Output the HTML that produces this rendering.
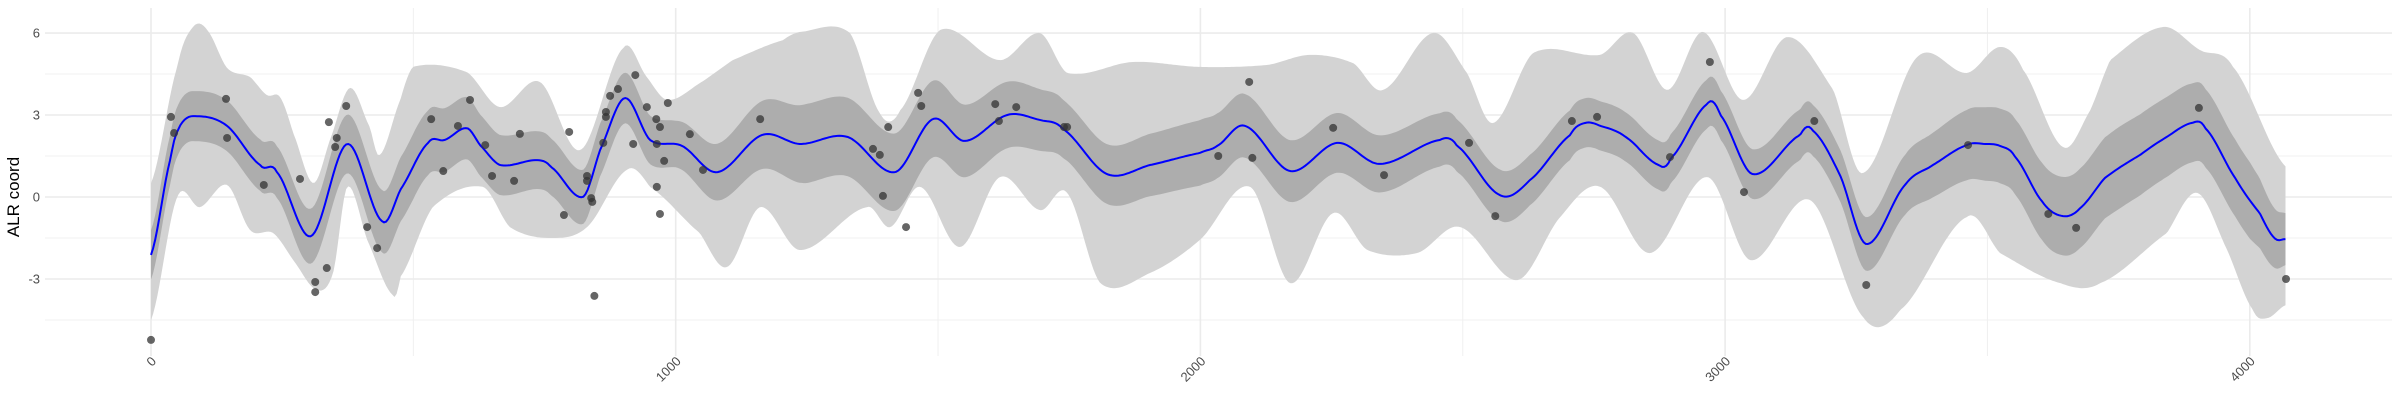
<!DOCTYPE html>
<html><head><meta charset="utf-8"><style>
html,body{margin:0;padding:0;background:#fff;}
svg{display:block;font-family:"Liberation Sans",sans-serif;}
</style></head><body>
<svg id="chart" width="2400" height="400" viewBox="0 0 2400 400" xmlns="http://www.w3.org/2000/svg">
<g id="grid"></g>
<g id="bands"></g>
<g id="line"></g>
<g id="pts"></g>
<g id="axes"></g>
<text x="0" y="0" transform="translate(19,197) rotate(-90)" text-anchor="middle" font-size="17" fill="#000">ALR coord</text>
</svg>
<script>
const meanX=[0,38,56,80,143,208,240,305,374,440,475,528,560,602,627,665,736,762,823,856,903,951,1012,1079,1165,1237,1327,1418,1490,1551,1632,1694,1738,1822,1904,1999,2032,2085,2171,2261,2342,2457,2489,2571,2628,2705,2733,2762,2810,2874,2897,2966,2991,3052,3143,3166,3219,3269,3343,3396,3461,3496,3524,3553,3605,3644,3677,3724,3791,3842,3890,3915,3972,4019,4047,4068];
const meanY=[-2.12,1.46,2.63,2.96,2.63,1.17,0.91,-1.43,1.94,-0.88,0.26,1.98,2.09,2.52,1.90,1.17,1.35,1.10,0,1.72,3.62,2.09,1.87,0.91,2.27,1.94,2.20,0.91,2.85,2.05,3.00,2.82,2.49,0.84,1.17,1.61,1.87,2.60,0.95,1.98,1.21,2.09,1.87,0.07,0.62,2.27,2.71,2.60,2.20,1.17,1.43,3.40,3.00,0.84,2.27,2.45,0.80,-1.72,0.44,1.17,1.90,1.94,1.87,1.46,-0.18,-0.70,-0.40,0.70,1.54,2.20,2.71,2.52,0.70,-0.59,-1.50,-1.54];
const upperX=[0,50,80,107,145,189,221,246,271,309,341,379,417,436,475,499,602,665,741,818,900,945,984,1046,1109,1205,1237,1332,1389,1428,1504,1618,1694,1746,1872,1999,2127,2209,2291,2348,2443,2508,2558,2634,2762,2825,2890,2958,3034,3118,3206,3263,3366,3461,3524,3568,3644,3696,3734,3835,3905,3968,4069];
const upperY=[0.51,4.76,6.22,6.11,4.72,4.39,3.73,3.66,2.34,0.51,2.09,3.99,2.56,1.54,3.55,4.76,4.57,3.29,4.21,1.72,5.45,4.39,3.55,4.17,5.01,5.74,6.04,6.00,3.07,3.18,6.11,5.01,6.00,4.54,4.94,4.76,4.83,5.20,4.90,3.92,6.00,4.54,2.71,5.27,5.20,6.00,3.92,6.04,3.55,5.85,3.92,0.88,5.12,4.54,5.49,4.65,1.83,3.18,5.01,6.22,5.38,4.76,1.10];
const lowerX=[0,50,93,145,189,233,271,316,347,374,412,461,475,537,633,684,760,831,907,951,1046,1098,1161,1237,1365,1409,1466,1542,1618,1694,1746,1809,1904,1999,2095,2171,2253,2318,2413,2495,2604,2686,2762,2857,2966,3048,3162,3263,3334,3461,3524,3639,3715,3842,3900,3957,4006,4033,4069];
const lowerY=[-4.50,0,-0.37,0.44,-1.21,-1.32,-2.31,-3.40,-2.78,0.37,-1.57,-3.59,-2.93,-0.37,0.37,-1.10,-1.50,-1.10,0.99,0.37,-1.32,-2.56,-0.37,-1.94,-0.37,-1.10,0.37,-1.83,0.73,-0.48,0.15,-3.15,-2.78,-1.57,0.37,-3.15,-0.59,-1.94,-2.05,-1.10,-3.04,-0.73,0.37,-2.05,0.73,-2.31,-0.11,-4.39,-4.13,-0.73,-2.05,-3.15,-3.15,-1.32,0.15,-1.94,-4.13,-4.43,-3.95];
const bandX=[0,250,500,750,1000,1250,1500,1750,2000,2250,2500,2750,3000,3250,3500,3750,4000,4068];
const innerHW=[0.9,0.95,1.2,1.05,0.85,1.45,1.4,1.05,1.2,1.1,0.95,0.9,0.9,0.95,1.35,1.5,1.4,0.95];
const ptX=[0,38,44,143,145,215,284,313,313,335,339,351,354,372,412,431,534,557,585,608,637,650,692,703,787,797,831,831,839,841,845,862,867,867,875,890,919,923,945,963,964,964,970,970,978,985,1027,1052,1161,1376,1389,1395,1405,1439,1462,1468,1609,1616,1649,1740,1746,2034,2093,2099,2253,2350,2512,2562,2708,2756,2895,2971,3036,3170,3269,3463,3616,3669,3903,4069];
const ptY=[-5.23,2.93,2.34,3.59,2.16,0.44,0.66,-3.11,-3.48,-2.60,2.74,1.83,2.16,3.33,-1.10,-1.87,2.85,0.95,2.60,3.55,1.90,0.77,0.59,2.31,-0.66,2.38,0.77,0.59,-0.04,-0.18,-3.62,1.98,3.11,2.93,3.70,3.95,1.94,4.46,3.29,2.85,0.37,1.94,2.56,-0.62,1.32,3.44,2.30,0.99,2.85,1.76,1.54,0.04,2.56,-1.10,3.81,3.33,3.40,2.78,3.29,2.56,2.56,1.50,4.21,1.43,2.53,0.80,1.98,-0.70,2.78,2.93,1.46,4.94,0.18,2.78,-3.22,1.90,-0.62,-1.13,3.26,-3.00];
const yTicks=[-3,0,3,6];
const yMinor=[-4.5,-1.5,1.5,4.5];
const xTicks=[0,1000,2000,3000,4000];
const xMinor=[500,1500,2500,3500];

const NS="http://www.w3.org/2000/svg";
const sx=v=>151+v*0.5247;
const sy=v=>197-v*27.33;
function mk(tag,attrs,parent){const e=document.createElementNS(NS,tag);for(const k in attrs)e.setAttribute(k,attrs[k]);parent.appendChild(e);return e;}
const grid=document.getElementById('grid');
yMinor.forEach(v=>{const l=mk('line',{x1:45,x2:2392,y1:sy(v),y2:sy(v),stroke:'#f0f0f0','stroke-width':1},grid);

});
xMinor.forEach(v=>{const l=mk('line',{x1:sx(v),x2:sx(v),y1:8,y2:356,stroke:'#f0f0f0','stroke-width':1},grid);

});
yTicks.forEach(v=>{const l=mk('line',{x1:45,x2:2392,y1:sy(v),y2:sy(v),stroke:'#ebebeb','stroke-width':1.6},grid);

});
xTicks.forEach(v=>{const l=mk('line',{x1:sx(v),x2:sx(v),y1:8,y2:356,stroke:'#ebebeb','stroke-width':1.6},grid);

});

function smoothAt(X,Y,x){
  let i=0;while(i<X.length-2&&x>X[i+1])i++;
  const x0=X[i],x1=X[i+1];const t=Math.max(0,Math.min(1,(x-x0)/(x1-x0)));
  const p0=Y[Math.max(i-1,0)],p1=Y[i],p2=Y[i+1],p3=Y[Math.min(i+2,Y.length-1)];
  const t2=t*t,t3=t2*t;
  return 0.5*((2*p1)+(-p0+p2)*t+(2*p0-5*p1+4*p2-p3)*t2+(-p0+3*p1-3*p2+p3)*t3);
}
const meanAt=x=>smoothAt(meanX,meanY,x);
function lin(xs,ys,x){let i=0;while(i<xs.length-2&&x>xs[i+1])i++;const t=Math.max(0,Math.min(1,(x-xs[i])/(xs[i+1]-xs[i])));return ys[i]+(ys[i+1]-ys[i])*t;}
const xs=[];const xEnd=meanX[meanX.length-1];
for(let x=0;x<xEnd;x+=4)xs.push(x);xs.push(xEnd);
function pathFrom(fu,fl){
  const up=xs.map(x=>sx(x).toFixed(1)+','+sy(fu(x)).toFixed(1));
  const lo=xs.slice().reverse().map(x=>sx(x).toFixed(1)+','+sy(fl(x)).toFixed(1));
  return 'M'+up.join('L')+'L'+lo.join('L')+'Z';
}
const bands=document.getElementById('bands');
const ob=mk('path',{d:pathFrom(x=>smoothAt(upperX,upperY,x),x=>smoothAt(lowerX,lowerY,x)),fill:'#d3d3d3'},bands);


const ib=mk('path',{d:pathFrom(x=>meanAt(x)+lin(bandX,innerHW,x),x=>meanAt(x)-lin(bandX,innerHW,x)),fill:'#adadad'},bands);


const ln=mk('path',{d:'M'+xs.map(x=>sx(x).toFixed(1)+','+sy(meanAt(x)).toFixed(1)).join('L'),fill:'none',stroke:'#0000ff','stroke-width':2},document.getElementById('line'));


const pts=document.getElementById('pts');
ptX.forEach((x,i)=>{const c=mk('circle',{cx:sx(x),cy:sy(ptY[i]),r:4,fill:'#333','fill-opacity':0.75},pts);

});
const axes=document.getElementById('axes');
yTicks.forEach(v=>{const t=mk('text',{x:40,y:sy(v)+4.5,'text-anchor':'end','font-size':13,fill:'#4d4d4d'},axes);t.textContent=v;

});
xTicks.forEach(v=>{const t=mk('text',{x:0,y:0,'text-anchor':'end','font-size':13,fill:'#4d4d4d',transform:'translate('+(sx(v)+6)+',362) rotate(-45)'},axes);t.textContent=v;

});
</script>
</body></html>
